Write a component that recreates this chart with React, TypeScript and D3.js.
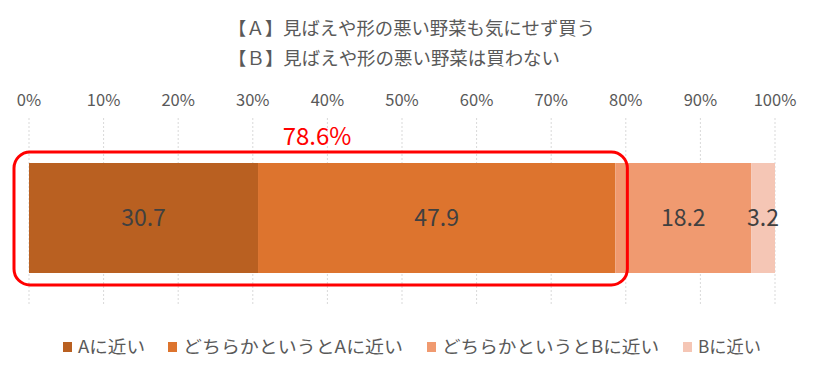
import React from "react";
import * as d3 from "d3";

const titleLines = ["【Ａ】見ばえや形の悪い野菜も気にせず買う", "【Ｂ】見ばえや形の悪い野菜は買わない"];
const categories = ["Aに近い", "どちらかというとAに近い", "どちらかというとBに近い", "Bに近い"];
const values = [30.7, 47.9, 18.2, 3.2];
const colors = ["#B96021", "#DD742E", "#F09A70", "#F5C6B5"];
const ticks = [0, 10, 20, 30, 40, 50, 60, 70, 80, 90, 100];
const highlightLabel = "78.6%";
const legendX = [63, 168, 427, 683];
const legendTextW = [67, 220, 217, 63];
const titleW = [367, 332];

export default function App() {
  const W = 814, H = 373;
  const x = d3.scaleLinear().domain([0, 100]).range([29, 775]);
  const y = d3.scaleBand().domain(["row"]).range([118, 318]).paddingInner(0.45).paddingOuter(0.225);
  const bandY = y("row")!;
  const bandH = y.bandwidth();
  const starts = d3.cumsum([0, ...values]);
  const font = "'Noto Sans CJK JP', 'Noto Sans', sans-serif";
  const highlightEnd = starts[2];
  return (
    <svg width={W} height={H} style={{ position: "absolute", left: 0, top: 0, fontFamily: font }}>
      <rect width={W} height={H} fill="#fff" />
      {titleLines.map((t, i) => (
        <text key={i} x={228} y={35 + i * 30} fontSize={18} fill="#595959" textLength={titleW[i]} lengthAdjust="spacingAndGlyphs">{t}</text>
      ))}
      {ticks.map((t) => (
        <g key={t}>
          <line x1={x(t)} x2={x(t)} y1={118} y2={305} stroke="#D9D9D9" strokeDasharray="2,2" />
          <text x={x(t)} y={106} textAnchor="middle" fontSize={16.5} fill="#595959">{t}%</text>
        </g>
      ))}
      {values.map((v, i) => (
        <g key={i}>
          <rect x={x(starts[i])} y={bandY} width={x(starts[i] + v) - x(starts[i])} height={bandH} fill={colors[i]} />
          <text x={(x(starts[i]) + x(starts[i] + v)) / 2} y={bandY + bandH / 2 + 8} textAnchor="middle" fontSize={23} fill="#404040">{v.toFixed(1)}</text>
        </g>
      ))}
      <rect x={14} y={bandY - 11} width={x(highlightEnd) + 12 - 14} height={bandH + 23} rx={16} ry={16} fill="none" stroke="#FF0000" strokeWidth={3} />
      <text x={317} y={145} textAnchor="middle" fontSize={24} fill="#FF0000">{highlightLabel}</text>
      {categories.map((c, i) => (
        <g key={c}>
          <rect x={legendX[i]} y={342} width={9} height={10} fill={colors[i]} />
          <text x={legendX[i] + 15} y={353} fontSize={17.5} fill="#595959" textLength={legendTextW[i]} lengthAdjust="spacingAndGlyphs">{c}</text>
        </g>
      ))}
    </svg>
  );
}
